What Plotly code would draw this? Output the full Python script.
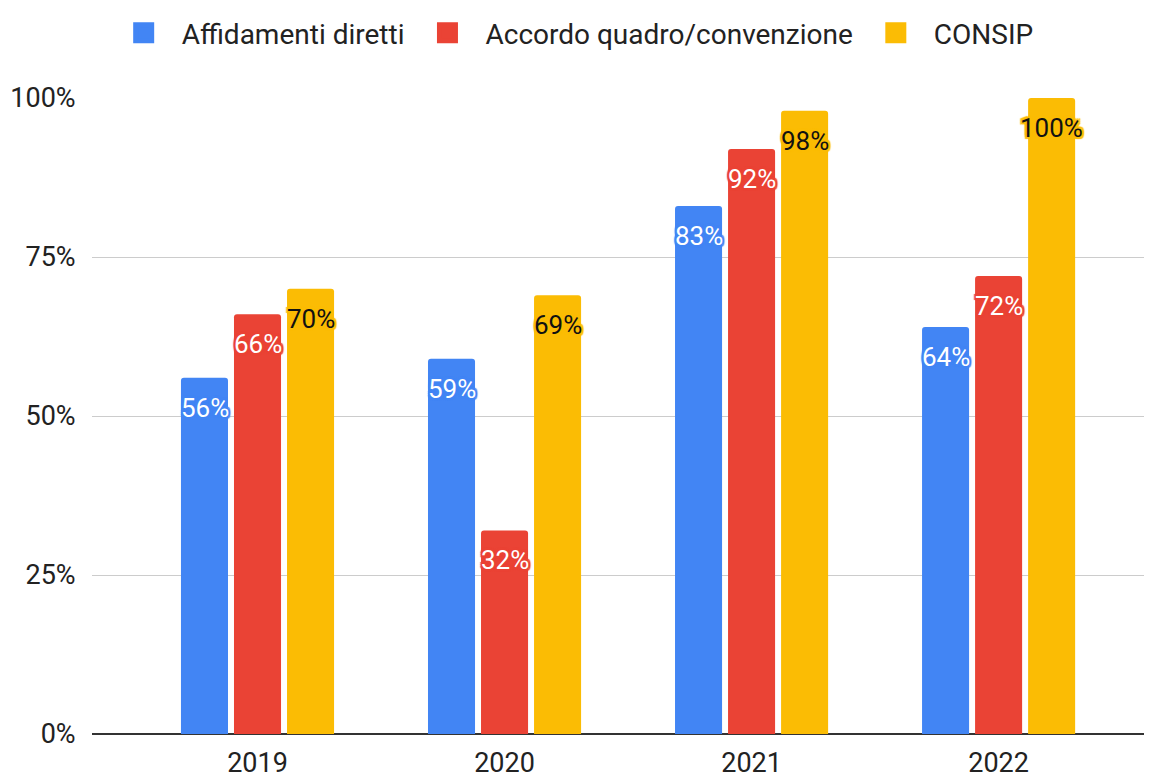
import plotly.graph_objects as go

# Data
YEARS = ["2019", "2020", "2021", "2022"]
AFFIDAMENTI = [0.56, 0.59, 0.83, 0.64]
ACCORDO = [0.66, 0.32, 0.92, 0.72]
CONSIP = [0.70, 0.69, 0.98, 1.00]

SERIES = [
    ("Affidamenti diretti", AFFIDAMENTI, "#4285F4", "#ffffff"),
    ("Accordo quadro/convenzione", ACCORDO, "#EA4335", "#ffffff"),
    ("CONSIP", CONSIP, "#FBBC04", "#111111"),
]

FONT = "Roboto"
SLOT_PX = 53  # horizontal distance between bars of a group

fig = go.Figure()
annotations = []
for j, (name, values, color, text_color) in enumerate(SERIES):
    fig.add_trace(go.Bar(
        name=name,
        x=YEARS,
        y=values,
        marker=dict(color=color, line=dict(width=0)),
        hoverinfo="name+y",
        showlegend=False,
    ))
    # legend entry with a bigger square swatch
    fig.add_trace(go.Scatter(
        name=name,
        x=[None],
        y=[None],
        mode="markers",
        marker=dict(symbol="square", size=16, color=color,
                    line=dict(width=5, color=color)),
    ))
    halo = ", ".join(f"{dx}px {dy}px 1px {color}"
                     for dx in (-2, 0, 2) for dy in (-2, 0, 2) if dx or dy)
    for i, v in enumerate(values):
        annotations.append(dict(
            x=i, y=v, xref="x", yref="y",
            text=f"{round(v * 100)}%",
            showarrow=False,
            xshift=(j - 1) * SLOT_PX,
            yshift=-30,
            font=dict(family=FONT, size=26, color=text_color, shadow=halo),
        ))

fig.update_layout(
    width=1144,
    height=768,
    margin=dict(l=84, r=0, t=86, b=42),
    plot_bgcolor="white",
    paper_bgcolor="white",
    font=dict(family=FONT, size=27, color="#222222"),
    barmode="group",
    bargap=0.356,
    bargroupgap=0.113,
    barcornerradius=3,
    showlegend=True,
    legend=dict(
        orientation="h",
        x=0.453, xanchor="center",
        y=1.103, yanchor="middle",
        font=dict(family=FONT, size=28, color="#222222"),
        itemwidth=66,
    ),
    annotations=annotations,
)

fig.update_xaxes(
    type="category",
    range=[-0.670, 3.621],
    showgrid=False,
    showline=False,
    zeroline=False,
    ticks="outside",
    ticklen=5,
    tickcolor="rgba(0,0,0,0)",
    tickfont=dict(family=FONT, size=27, color="#222222"),
    automargin=False,
)

fig.update_yaxes(
    range=[0, 1],
    tickvals=[0, 0.25, 0.5, 0.75, 1.0],
    tickformat=".0%",
    showgrid=True,
    gridcolor="#cccccc",
    gridwidth=1,
    zeroline=True,
    zerolinecolor="#333333",
    zerolinewidth=1.5,
    showline=False,
    ticks="outside",
    ticklen=10,
    tickcolor="rgba(0,0,0,0)",
    tickfont=dict(family=FONT, size=27, color="#222222"),
    automargin=False,
)

fig.write_html("out.html")
